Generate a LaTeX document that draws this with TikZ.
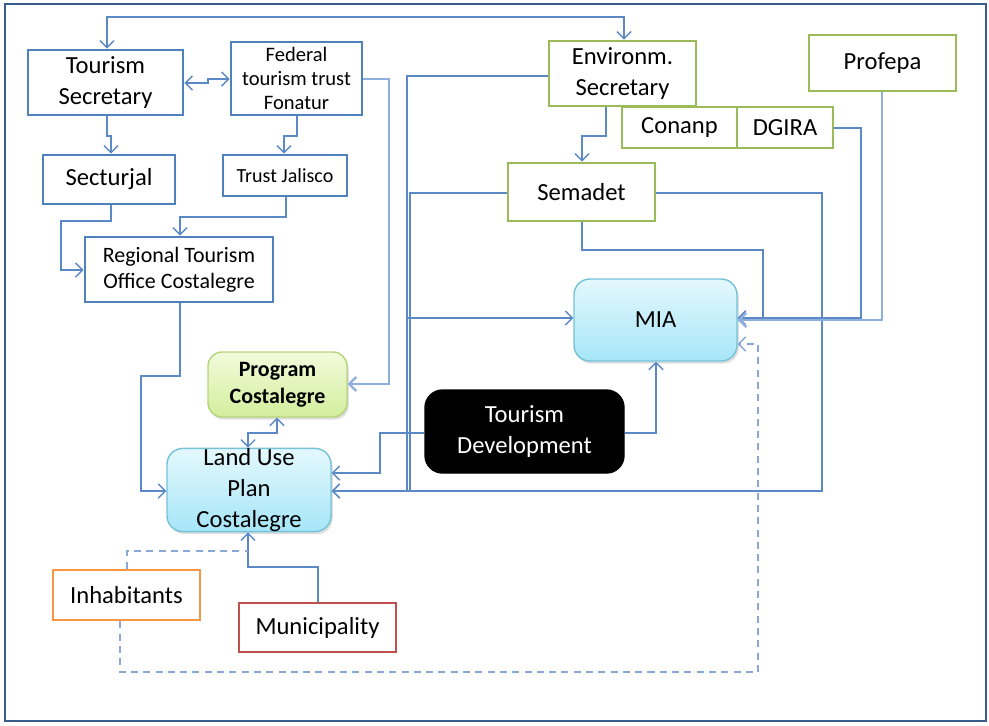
\documentclass[tikz,border=0pt]{standalone}
\usepackage{fontspec}
\setmainfont{Carlito}
\usetikzlibrary{arrows.meta,shadows}
\definecolor{framec}{HTML}{385D8A}
\definecolor{bluec}{HTML}{4F81BD}
\definecolor{greenc}{HTML}{9BBB59}
\definecolor{orangec}{HTML}{F79646}
\definecolor{redc}{HTML}{C0504D}
\definecolor{connc}{HTML}{5B89C6}
\definecolor{lconnc}{HTML}{8FB0DE}
\definecolor{dashc}{HTML}{8AA8D6}
\definecolor{cyantop}{HTML}{E4F8FD}
\definecolor{cyanbot}{HTML}{A6E6F8}
\definecolor{cyanline}{HTML}{74C2D8}
\definecolor{greentop}{HTML}{F2FBDC}
\definecolor{greenbot}{HTML}{D3EE9C}
\definecolor{greenline}{HTML}{B3D57A}
\tikzset{
  sz/.style 2 args={minimum width=#1*0.02cm, minimum height=#2*0.02cm},
  basebox/.style={draw, line width=1.65pt, inner sep=0pt, align=center, font=\fontsize{14}{17.6}\selectfont},
  bluebox/.style={basebox, draw=bluec},
  greenbox/.style={basebox, draw=greenc},
  orangebox/.style={basebox, draw=orangec},
  redbox/.style={basebox, draw=redc},
  cyanbox/.style={basebox, line width=0.8pt, draw=cyanline, rounded corners=9pt, top color=cyantop, bottom color=cyanbot,
     drop shadow={opacity=0.25, shadow xshift=1pt, shadow yshift=-1.5pt}},
  lgreenbox/.style={basebox, line width=0.8pt, draw=greenline, rounded corners=8pt, top color=greentop, bottom color=greenbot,
     font=\fontsize{12.5}{15.4}\selectfont\bfseries,
     drop shadow={opacity=0.25, shadow xshift=1pt, shadow yshift=-1.5pt}},
  blackbox/.style={basebox, line width=0.8pt, draw=black, fill=black, text=white, rounded corners=10pt},
  conn/.style={draw=connc, line width=0.8pt, >={Straight Barb[length=4pt,width=8pt]}},
  lconn/.style={draw=lconnc, line width=1.3pt, >={Straight Barb[length=4pt,width=8pt]}},
  dconn/.style={draw=dashc, line width=0.8pt, dash pattern=on 4pt off 3pt, >={Straight Barb[length=4pt,width=8pt]}},
}
\begin{document}
\begin{tikzpicture}[x=0.02cm,y=-0.02cm]
\useasboundingbox (0,0) rectangle (989,725);
\draw[framec, line width=1.6pt] (5,4) rectangle (986,721);

% nodes
\node[bluebox, sz={155}{65}] (ts) at (105.5,82.5) {Tourism\\Secretary};
\node[bluebox, sz={131}{73}, font=\fontsize{11.7}{13.7}\selectfont] (fon) at (296.5,78.5) {Federal\\tourism trust\\Fonatur};
\node[bluebox, sz={132}{49}] (sec) at (109,179.5) {Secturjal};
\node[bluebox, sz={124}{41}, font=\fontsize{11.4}{13.7}\selectfont] (tj) at (285,175.5) {Trust Jalisco};
\node[bluebox, sz={188}{65}, font=\fontsize{12.5}{14.8}\selectfont] (reg) at (179,269.5) {Regional Tourism\\Office Costalegre};
\node[greenbox, sz={147}{65}] (env) at (622.5,73.5) {Environm.\\Secretary};
\node[greenbox, sz={115}{41}] (con) at (679.5,127.5) {Conanp};
\node[greenbox, sz={96}{41}] (dg) at (785,127.5) {DGIRA};
\node[greenbox, sz={147}{56}] (prof) at (882.5,63) {Profepa};
\node[greenbox, sz={147}{58}] (sem) at (581.5,192) {Semadet};
\node[cyanbox, sz={163}{82}] (mia) at (655.5,320) {MIA};
\node[blackbox, sz={199}{83}] (td) at (524.5,431.5) {Tourism\\Development};
\node[lgreenbox, sz={139}{65}] (prog) at (277.5,384.5) {Program\\Costalegre};
\node[cyanbox, sz={164}{82}] (lu) at (249,490) {Land Use\\Plan\\Costalegre};
\node[orangebox, sz={147}{50}] (inh) at (126.5,595) {Inhabitants};
\node[redbox, sz={157}{49}] (mun) at (317.5,627.5) {Municipality};

% connectors
\draw[conn,<->] (624,0 |- env.north) -- (624,17) -- (107,17) -- (107,0 |- ts.north);
\draw[conn,<->] (ts.east |- 0,83) -- (208,83) -- (208,79) -- (fon.west |- 0,79);
\draw[conn,->] (107,0 |- ts.south) -- (107,136) -- (111,136) -- (111,0 |- sec.north);
\draw[conn,->] (297,0 |- fon.south) -- (297,136) -- (284,136) -- (284,0 |- tj.north);
\draw[conn,->] (111,0 |- sec.south) -- (111,221) -- (61,221) -- (61,270) -- (reg.west |- 0,270);
\draw[conn,->] (286,0 |- tj.south) -- (286,217) -- (180,217) -- (180,0 |- reg.north);
\draw[conn,->] (180,0 |- reg.south) -- (180,376) -- (141,376) -- (141,491) -- (lu.west |- 0,491);
\draw[lconn,->] (fon.east |- 0,79) -- (389,79) -- (389,384) -- (prog.east |- 0,384);
\draw[conn,->] (env.west |- 0,76) -- (407,76) -- (407,491) -- (lu.east |- 0,491);
\draw[conn,->] (407,318) -- (mia.west |- 0,318);
\draw[conn] (sem.west |- 0,193) -- (410,193) -- (410,491);
\draw[conn,->] (sem.east |- 0,193) -- (822,193) -- (822,491) -- (lu.east |- 0,491);
\draw[conn,->] (582,0 |- sem.south) -- (582,250) -- (763,250) -- (763,318) -- (mia.east |- 0,318);
\draw[conn,->] (dg.east |- 0,128) -- (861,128) -- (861,318) -- (mia.east |- 0,318);
\draw[lconn,->] (882,0 |- prof.south) -- (882,320) -- (mia.east |- 0,320);
\draw[conn,->] (606,0 |- env.south) -- (606,136) -- (582,136) -- (582,0 |- sem.north);
\draw[conn,->] (td.east |- 0,433) -- (656,433) -- (656,0 |- mia.south);
\draw[conn,->] (td.west |- 0,433) -- (380,433) -- (380,473) -- (lu.east |- 0,473);
\draw[conn,<->] (277,0 |- prog.south) -- (277,433) -- (248,433) -- (248,0 |- lu.north);
\draw[conn,->] (318,0 |- mun.north) -- (318,567) -- (248,567) -- (248,0 |- lu.south);
\draw[dconn] (127,0 |- inh.north) -- (127,551) -- (248,551);
\draw[dconn,->] (120,0 |- inh.south) -- (120,672) -- (758,672) -- (758,344) -- (mia.east |- 0,344);
\end{tikzpicture}
\end{document}
